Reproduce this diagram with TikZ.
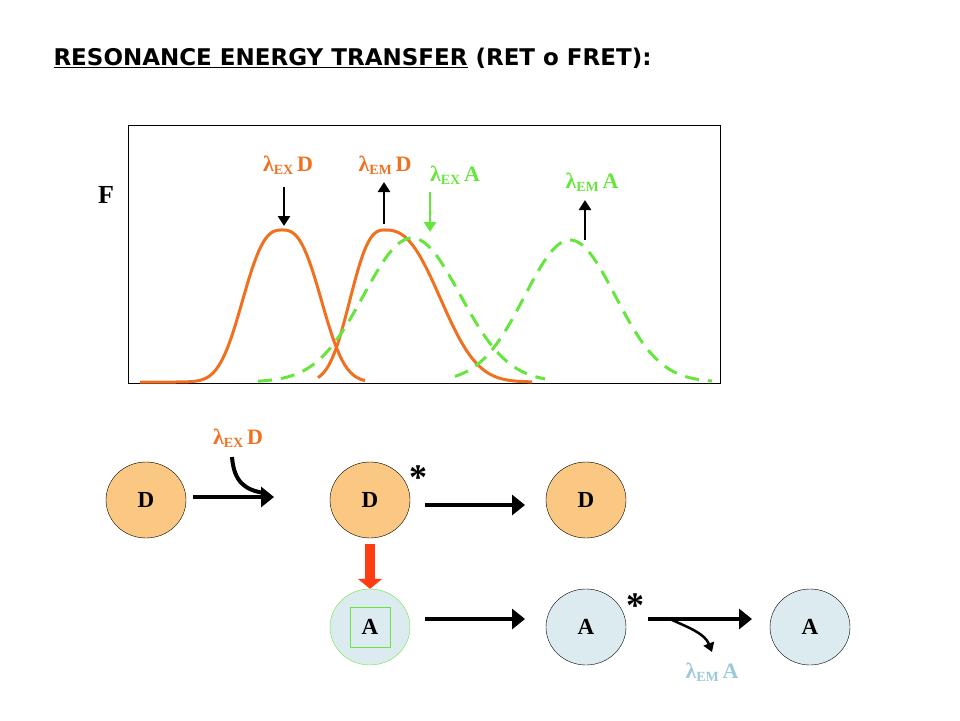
\documentclass[tikz,border=0pt]{standalone}
\usepackage{fontspec}
\setmainfont{Liberation Serif}
\newfontfamily\titlefont{DejaVu Sans}
\usetikzlibrary{arrows.meta,positioning,shapes.geometric}
\definecolor{dorange}{HTML}{F07020}
\definecolor{dfill}{HTML}{FAC882}
\definecolor{afill}{HTML}{DCEBEF}
\definecolor{agreen}{HTML}{66E63C}
\definecolor{ablue}{HTML}{9CC8DA}
\definecolor{fretred}{HTML}{FF3C14}
\newcommand{\lamlab}[2]{λ\raisebox{-3pt}{\fontsize{14}{14}\selectfont #1}\,#2}
\begin{document}
\begin{tikzpicture}[x=1pt,y=-1pt]
			\tikzstyle{Donor}	= [ellipse, draw, fill=dfill, minimum width=80pt, minimum height=76pt, inner sep=0pt, font=\fontsize{23}{23}\selectfont\bfseries]
			\tikzstyle{Acceptor}	= [Donor, fill=afill]
			\tikzstyle{Step}	= [line width=4.5pt, -{Triangle[length=13pt,width=20pt]}]
			\tikzstyle{Small}	= [line width=2.5pt, -{Triangle[length=10pt,width=12pt]}]
			\tikzstyle{Lab}	= [font=\fontsize{22}{22}\selectfont\bfseries, inner sep=0pt]
			\tikzstyle{DCurve}	= [dorange, line width=3pt]
			\tikzstyle{ACurve}	= [agreen, line width=3pt, dash pattern=on 14pt off 9pt]

			\useasboundingbox (0,0) rectangle (960,720);
			\node[anchor=west, font=\titlefont\fontsize{23}{23}\selectfont\bfseries] (title) at (50,58) {\underline{RESONANCE ENERGY TRANSFER} (RET o FRET):};

			% spectra
			\node[draw, thin, minimum width=592pt, minimum height=258pt, inner sep=0pt] (box) at (424,254) {};
			\node[font=\fontsize{26}{26}\selectfont\bfseries] (F) at (106,195) {F};
			\begin{scope}
				\clip (128,125) rectangle (720,383);
				\draw[DCurve] plot[domain=140:365,samples=90] (\x,{382-152*exp(-(abs(\x-282)/47)^2.7)});
				\draw[DCurve] plot[domain=318:385,samples=50] (\x,{382-152*exp(-(abs(\x-385)/42)^2.7)})
					-- plot[domain=385:532,samples=80] (\x,{382-152*exp(-(abs(\x-385)/68)^2.5)});
				\draw[ACurve] plot[domain=258:545,samples=90] (\x,{382-144*exp(-((\x-412)/68)^2)});
				\draw[ACurve] plot[domain=455:712,samples=90] (\x,{382-142*exp(-((\x-570)/64)^2)});
			\end{scope}
			\coordinate (exd1) at (284,187); \coordinate (exd2) at (284,226);
			\coordinate (emd1) at (384,224); \coordinate (emd2) at (384,182);
			\coordinate (exa1) at (430,192); \coordinate (exa2) at (430,232);
			\coordinate (ema1) at (585,240); \coordinate (ema2) at (585,200);
			\draw[Small] (exd1) -- (exd2);
			\draw[Small] (emd1) -- (emd2);
			\draw[Small, agreen] (exa1) -- (exa2);
			\draw[Small] (ema1) -- (ema2);
			\node[Lab, dorange] (lexd) at (288,165) {\lamlab{EX}{D}};
			\node[Lab, dorange] (lemd) at (385,165) {\lamlab{EM}{D}};
			\node[Lab, agreen] (lexa) at (455,175) {\lamlab{EX}{A}};
			\node[Lab, agreen] (lema) at (592,182) {\lamlab{EM}{A}};

			% scheme
			\node (d1) at (146,500) [Donor] {D};
			\node (d2) at (370,500) [Donor] {D};
			\node (d3) at (586,500) [Donor] {D};
			\node (a1) at (370,627) [Acceptor, draw=agreen] {};
			\node (a1box) at (370,627) [draw=agreen, minimum size=40pt, inner sep=0pt, font=\fontsize{23}{23}\selectfont\bfseries] {A};
			\node (a2) at (586,627) [Acceptor] {A};
			\node (a3) at (810,627) [Acceptor] {A};
			\node (s1) at (418,478) [font=\fontsize{36}{36}\selectfont\bfseries] {*};
			\node (s2) at (635,606) [font=\fontsize{36}{36}\selectfont\bfseries] {*};

			\coordinate (p1) at (193,497); \coordinate (p2) at (274,497);
			\coordinate (q1) at (425,505); \coordinate (q2) at (525,505);
			\coordinate (r1) at (425,619); \coordinate (r2) at (525,619);
			\coordinate (t1) at (648,619); \coordinate (t2) at (752,619);
			\draw[Step] (p1) -- (p2);
			\draw[Step] (q1) -- (q2);
			\draw[Step] (r1) -- (r2);
			\draw[Step] (t1) -- (t2);
			\draw[fretred, line width=10pt, -{Triangle[length=10pt,width=24pt]}] (d2.south) ++(0,6) -- (a1.north);

			\node[Lab, dorange] (lexd2) at (238,438) {\lamlab{EX}{D}};
			\coordinate (c1) at (232,457); \coordinate (c2) at (264,493);
			\draw[line width=4pt] (c1) .. controls (234,482) and (245,490) .. (c2);
			\node[Lab, ablue] (lema2) at (712,672) {\lamlab{EM}{A}};
			\coordinate (e1) at (672,620); \coordinate (e2) at (712,652);
			\draw[line width=2.5pt, -{Triangle[length=9pt,width=11pt]}] (e1) .. controls (690,628) and (705,634) .. (e2);
		\end{tikzpicture}
\end{document}
